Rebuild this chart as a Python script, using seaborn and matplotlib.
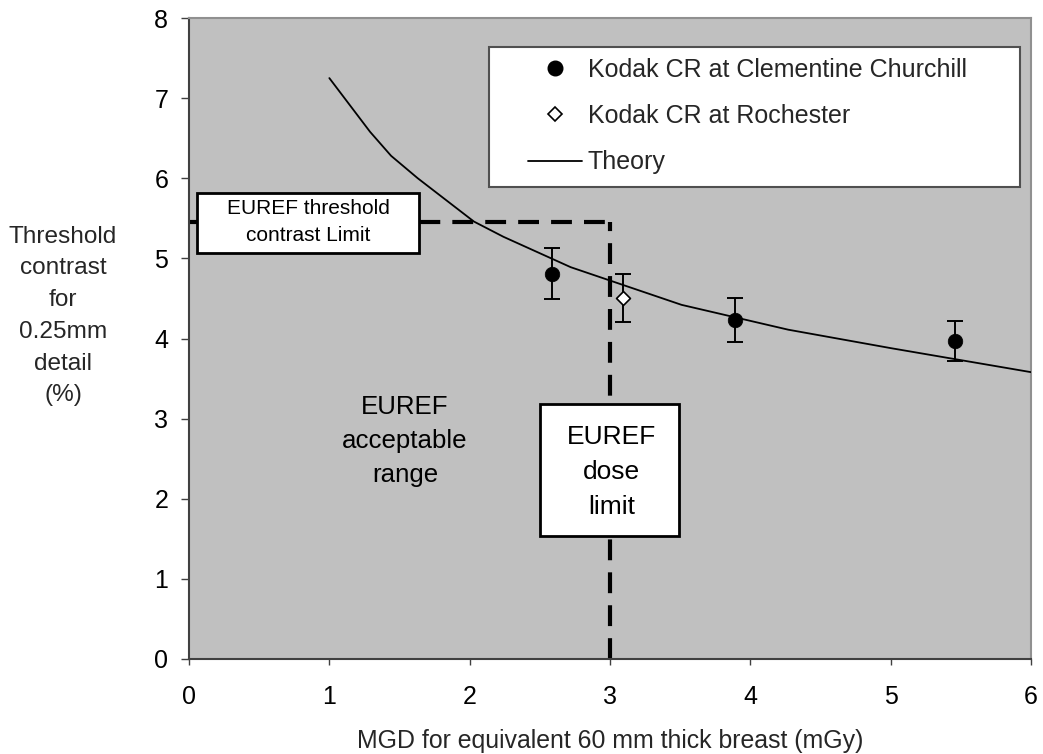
import matplotlib
matplotlib.use("Agg")
import matplotlib.pyplot as plt
from matplotlib.patches import Rectangle
from matplotlib.lines import Line2D
import seaborn as sns
import pandas as pd

# ---- data ----
clem_x = [2.59, 3.89, 5.46]
clem_y = [4.81, 4.23, 3.97]
clem_err = [0.32, 0.27, 0.25]

roch_x = [3.09]
roch_y = [4.50]
roch_err = [0.30]

theory_x = [1.00, 1.29, 1.44, 1.63, 2.03, 2.24, 2.72, 3.51, 4.27, 5.00, 6.00]
theory_y = [7.25, 6.58, 6.28, 6.00, 5.46, 5.27, 4.89, 4.42, 4.11, 3.88, 3.58]

contrast_limit = 5.46
dose_limit = 3.0

x_ticks = [0, 1, 2, 3, 4, 5, 6]
y_ticks = [0, 1, 2, 3, 4, 5, 6, 7, 8]

x_label = "MGD for equivalent 60 mm thick breast (mGy)"
y_label = "Threshold\ncontrast\nfor\n0.25mm\ndetail\n(%)"
legend_labels = ["Kodak CR at Clementine Churchill", "Kodak CR at Rochester", "Theory"]

# ---- styling ----
sns.set_theme(style="white")
plt.rcParams["font.family"] = ["Liberation Sans", "DejaVu Sans"]

fig = plt.figure(figsize=(10.43, 7.54), dpi=100)
ax = fig.add_axes([189 / 1043, 1 - 659 / 754, (1031 - 189) / 1043, (659 - 18) / 754])
ax.set_facecolor("#C0C0C0")

theory_df = pd.DataFrame({"x": theory_x, "y": theory_y})
clem_df = pd.DataFrame({"x": clem_x, "y": clem_y})
roch_df = pd.DataFrame({"x": roch_x, "y": roch_y})

sns.lineplot(data=theory_df, x="x", y="y", ax=ax, color="black", linewidth=1.3,
             sort=False, zorder=3, legend=False)

ax.errorbar(clem_x, clem_y, yerr=clem_err, fmt="none", ecolor="black",
            elinewidth=1.4, capsize=6, capthick=1.4, zorder=4)
ax.errorbar(roch_x, roch_y, yerr=roch_err, fmt="none", ecolor="black",
            elinewidth=1.4, capsize=6, capthick=1.4, zorder=4)

sns.scatterplot(data=clem_df, x="x", y="y", ax=ax, marker="o", s=110,
                color="black", edgecolor="black", linewidth=0.5, zorder=5, legend=False)
sns.scatterplot(data=roch_df, x="x", y="y", ax=ax, marker="D", s=50,
                color="white", edgecolor="black", linewidth=1.2, zorder=5, legend=False)

# EUREF limit lines
ax.plot([0, dose_limit], [contrast_limit, contrast_limit], color="black",
        linewidth=3, dashes=(5, 2.9), zorder=2, solid_capstyle="butt")
ax.plot([dose_limit, dose_limit], [0, contrast_limit], color="black",
        linewidth=3, dashes=(5, 2.9), zorder=2, solid_capstyle="butt")

# annotation boxes
ax.add_patch(Rectangle((0.057, 5.07), 1.579, 0.75, facecolor="white",
                       edgecolor="black", linewidth=2, zorder=6))
ax.text(0.85, 5.45, "EUREF threshold\ncontrast Limit", ha="center", va="center",
        fontsize=15, linespacing=1.55, zorder=7, color="black")

ax.add_patch(Rectangle((2.5, 1.54), 0.99, 1.64, facecolor="white",
                       edgecolor="black", linewidth=2, zorder=6))
ax.text(3.01, 2.33, "EUREF\ndose\nlimit", ha="center", va="center",
        fontsize=19, linespacing=1.58, zorder=7, color="black")

ax.text(1.54, 2.72, "EUREF\nacceptable\nrange", ha="center", va="center",
        fontsize=18.6, linespacing=1.52, zorder=7, color="black")

# axes
ax.set_xlim(0, 6)
ax.set_ylim(0, 8)
ax.set_xticks(x_ticks)
ax.set_yticks(y_ticks)
ax.set_xticklabels([str(v) for v in x_ticks])
ax.set_yticklabels([str(v) for v in y_ticks])
ax.tick_params(axis="x", direction="out", length=4.5, width=1, color="#404040",
               labelsize=18, pad=14, labelcolor="black", bottom=True)
ax.tick_params(axis="y", direction="out", length=6, width=1, color="#404040",
               labelsize=18, pad=9, labelcolor="black", left=True)
ax.set_xlabel("")
ax.set_ylabel("")
for side in ["left", "bottom"]:
    ax.spines[side].set_color("#404040")
    ax.spines[side].set_linewidth(1.5)
for side in ["top", "right"]:
    ax.spines[side].set_color("#909090")
    ax.spines[side].set_linewidth(1.5)
    ax.spines[side].set_visible(True)

fig.text(610 / 1043, 1 - 741 / 754, x_label, ha="center", va="center", fontsize=17.9)
fig.text(63 / 1043, 1 - 316 / 754, y_label, ha="center", va="center",
         fontsize=17.6, linespacing=1.57, multialignment="center")

# legend frame and legend
ax.add_patch(Rectangle((0.356, 0.736), 0.631, 0.219, transform=ax.transAxes,
                       facecolor="white", edgecolor="#505050", linewidth=1.5, zorder=8))
handles = [
    Line2D([], [], linestyle="none", marker="o", markersize=10.5,
           markerfacecolor="black", markeredgecolor="black"),
    Line2D([], [], linestyle="none", marker="D", markersize=7,
           markerfacecolor="white", markeredgecolor="black", markeredgewidth=1.2),
    Line2D([], [], color="black", linewidth=1.3),
]
leg = ax.legend(handles, legend_labels, loc="upper left",
                bbox_to_anchor=(0.4026, 0.9376), frameon=False, fontsize=18,
                borderpad=0, borderaxespad=0, handlelength=2.16,
                handletextpad=0.24, labelspacing=0.89)
leg.set_zorder(9)

fig.savefig("out.png", dpi=100)
